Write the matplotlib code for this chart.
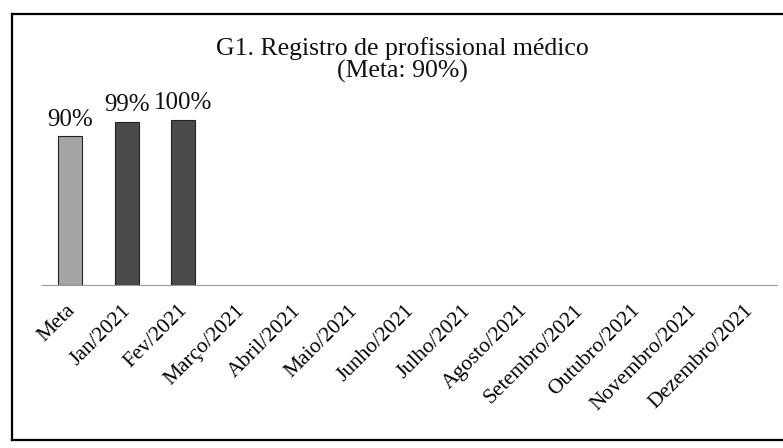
import matplotlib
matplotlib.use('Agg')
import matplotlib.pyplot as plt
import matplotlib.transforms as mtransforms
from matplotlib.lines import Line2D

categories = ["Meta", "Jan/2021", "Fev/2021", "Março/2021", "Abril/2021", "Maio/2021",
              "Junho/2021", "Julho/2021", "Agosto/2021", "Setembro/2021", "Outubro/2021",
              "Novembro/2021", "Dezembro/2021"]
values = [90, 99, 100]
bar_colors = ["#a4a4a4", "#4a4a4a", "#4a4a4a"]
title = "G1. Registro de profissional médico\n(Meta: 90%)"

plt.rcParams['font.family'] = ['Liberation Serif', 'DejaVu Serif']

fig = plt.figure(figsize=(7.83, 4.48), dpi=100)
ax = fig.add_axes([42 / 783, 1 - 285 / 448, 735 / 783, 198 / 448])

x = list(range(len(values)))
bars = ax.bar(x, values, width=0.42, color=bar_colors, edgecolor="#222222", linewidth=0.8)
for xi, v in zip(x, values):
    ax.text(xi, v + 3.5, "{}%".format(v), ha='center', va='bottom', fontsize=18, color='#111111')

ax.set_xlim(-0.5, len(categories) - 0.5)
ax.set_ylim(0, 120)
ax.set_xticks(range(len(categories)))
ax.set_xticklabels(categories, rotation=45, ha='right', rotation_mode='anchor', fontsize=15.5)
ax.tick_params(axis='x', length=0, pad=5)
# nudge labels down-left like the scanned original
shift = mtransforms.ScaledTranslation(-5 / 100, -9 / 100, fig.dpi_scale_trans)
for lbl in ax.get_xticklabels():
    lbl.set_transform(lbl.get_transform() + shift)
ax.set_yticks([])
for side in ['left', 'right', 'top']:
    ax.spines[side].set_visible(False)
ax.spines['bottom'].set_color('#9a9a9a')
ax.spines['bottom'].set_linewidth(0.8)

fig.text(402 / 783, 1 - 37 / 448, title, ha='center', va='top', fontsize=18.5,
         linespacing=1.0, color='#111111')

# scanned frame: left, top, bottom
l, r = 12 / 783, 1.0
b, t = 1 - 440 / 448, 1 - 14 / 448
fig.add_artist(Line2D([l, l], [b, t], color='black', lw=1.6, transform=fig.transFigure))
fig.add_artist(Line2D([l, r], [t, t], color='black', lw=1.6, transform=fig.transFigure))
fig.add_artist(Line2D([l, r], [b, b], color='black', lw=1.6, transform=fig.transFigure))

plt.savefig('out.png', dpi=100)
